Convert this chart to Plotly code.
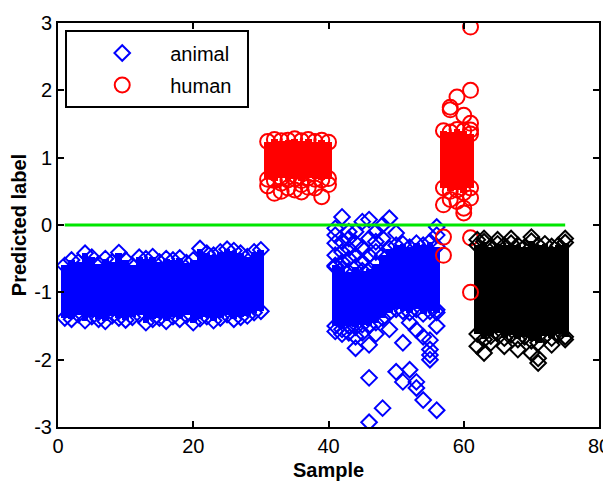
import plotly.graph_objects as go

# ---------------- data ----------------
# animal, group 1 : samples 1..30, dense core range per sample
animal1_x = list(range(1, 31))
animal1_hi = [-0.60, -0.52, -0.55, -0.42, -0.48, -0.58, -0.50, -0.55, -0.41, -0.52,
              -0.60, -0.48, -0.50, -0.47, -0.55, -0.50, -0.52, -0.49, -0.56, -0.52,
              -0.35, -0.42, -0.45, -0.40, -0.36, -0.38, -0.42, -0.47, -0.40, -0.37]
animal1_lo = [-1.38, -1.40, -1.33, -1.42, -1.36, -1.40, -1.43, -1.35, -1.38, -1.41,
              -1.37, -1.33, -1.45, -1.40, -1.38, -1.43, -1.36, -1.40, -1.34, -1.45,
              -1.39, -1.36, -1.42, -1.38, -1.33, -1.40, -1.37, -1.35, -1.30, -1.28]

# human, group 1 : samples 31..40
human1_x = list(range(31, 41))
human1_hi = [1.24, 1.27, 1.25, 1.26, 1.28, 1.25, 1.27, 1.24, 1.26, 1.23]
human1_lo = [0.68, 0.66, 0.70, 0.67, 0.69, 0.66, 0.70, 0.68, 0.67, 0.69]
human1_extra_x = [31, 32, 33, 34, 35, 36, 37, 38, 39, 40, 33, 36]
human1_extra_y = [0.58, 0.47, 0.50, 0.55, 0.52, 0.49, 0.56, 0.55, 0.42, 0.60, 0.62, 0.60]

# animal, group 2 : samples 41..56
animal2_x = list(range(41, 57))
animal2_hi = [-0.60, -0.65, -0.70, -0.62, -0.68, -0.66, -0.58, -0.45,
              -0.35, -0.30, -0.28, -0.33, -0.27, -0.30, -0.25, -0.32]
animal2_lo = [-1.50, -1.55, -1.50, -1.52, -1.48, -1.50, -1.45, -1.38,
              -1.30, -1.25, -1.28, -1.30, -1.25, -1.32, -1.28, -1.30]
animal2_extra_x = [41, 41, 41, 42, 42, 43, 43, 44, 44, 45, 46, 46, 47, 47, 49, 50, 56, 56,
                   41, 42, 43, 44, 45, 45, 46, 47, 42, 48, 48, 41, 43,
                   42, 44, 44, 46, 46, 48, 46, 51, 50, 51, 52, 53, 53, 54, 56, 53, 54,
                   55, 55, 55, 56, 56, 52, 49, 47, 45, 41, 43, 55]
animal2_extra_y = [-0.05, -0.27, -0.15, 0.12, -0.40, -0.10, -0.35, -0.27, -0.45, 0.05,
                   0.08, -0.20, -0.10, -0.40, 0.10, -0.12, -0.03, -0.15,
                   -0.45, -0.25, -0.50, -0.10, -0.35, -0.55, -0.45, -0.25, -0.55, -0.20,
                   0.00, -0.62, -0.20,
                   -1.62, -1.66, -1.83, -1.78, -2.27, -2.72, -2.93, -1.75, -2.18, -2.33,
                   -2.15, -2.33, -2.42, -2.60, -2.75, -1.56, -1.66, -1.93, -1.85, -1.71,
                   -1.26, -1.50, -1.45, -1.55, -1.62, -1.60, -1.58, -1.60, -2.00]

# human, group 2 : samples 57..61
human2_x = list(range(57, 62))
human2_hi = [1.40, 1.38, 1.42, 1.40, 1.35]
human2_lo = [0.55, 0.50, 0.52, 0.48, 0.55]
human2_extra_x = [61, 61, 59, 58, 58, 60, 61, 61, 57, 60, 60, 59, 57, 57, 61, 61, 58, 61]
human2_extra_y = [2.94, 2.00, 1.90, 1.71, 1.75, 1.63, 1.51, 1.41, 0.30, 0.18, 0.25,
                  0.35, -0.18, -0.45, -0.19, -1.00, 0.38, 0.40]

# third class (black) : samples 62..75
other_x = list(range(62, 76))
other_hi = [-0.30, -0.25, -0.32, -0.28, -0.30, -0.27, -0.30, -0.33, -0.24, -0.30,
            -0.28, -0.32, -0.30, -0.26]
other_lo = [-1.62, -1.70, -1.65, -1.60, -1.68, -1.63, -1.70, -1.66, -1.72, -1.75,
            -1.65, -1.68, -1.62, -1.66]
other_extra_x = [63, 62, 71, 71, 70, 75, 66, 68, 73, 64, 62, 63, 67, 70, 75, 65]
other_extra_y = [-1.90, -1.80, -2.05, -1.98, -1.90, -1.70, -1.80, -1.85, -1.78, -1.75,
                 -0.22, -0.20, -0.20, -0.18, -0.20, -0.22]

# decision threshold line
threshold_x = [1, 75]
threshold_y = [0, 0]

x_ticks = [0, 20, 40, 60, 80]
x_tick_text = ["0", "20", "40", "60", "80"]
y_ticks = [-3, -2, -1, 0, 1, 2, 3]
y_tick_text = ["-3", "-2", "-1", "0", "1", "2", "3"]

BLUE = "rgb(0,0,255)"
RED = "rgb(255,0,0)"
BLACK = "rgb(0,0,0)"
GREEN = "rgb(0,230,0)"
FONT = "Arial, Liberation Sans, sans-serif"

fig = go.Figure()


def add_group(xs, hi, lo, ex_x, ex_y, color, symbol, size, name, show, group):
    fig.add_trace(go.Bar(
        x=xs, y=[h - l for h, l in zip(hi, lo)], base=lo, width=1,
        marker=dict(color=color, line=dict(width=0)),
        showlegend=False, hoverinfo="skip"))
    fig.add_trace(go.Scatter(
        x=xs + xs + ex_x, y=hi + lo + ex_y, mode="markers", name=name,
        legendgroup=group, showlegend=show,
        marker=dict(symbol=symbol, size=size, color=color,
                    line=dict(color=color, width=2))))


add_group(animal1_x, animal1_hi, animal1_lo, [], [], BLUE, "diamond-open", 12,
          "animal", True, "a")
add_group(animal2_x, animal2_hi, animal2_lo, animal2_extra_x, animal2_extra_y, BLUE,
          "diamond-open", 12, "animal", False, "a")
add_group(human1_x, human1_hi, human1_lo, human1_extra_x, human1_extra_y, RED,
          "circle-open", 15, "human", True, "h")
add_group(human2_x, human2_hi, human2_lo, human2_extra_x, human2_extra_y, RED,
          "circle-open", 15, "human", False, "h")
add_group(other_x, other_hi, other_lo, other_extra_x, other_extra_y, BLACK,
          "diamond-open", 12, "other", False, "o")

fig.add_trace(go.Scatter(x=threshold_x, y=threshold_y, mode="lines",
                         line=dict(color=GREEN, width=3), showlegend=False,
                         hoverinfo="skip"))

axis_common = dict(showline=True, linecolor="black", linewidth=2, mirror="ticks",
                   ticks="inside", ticklen=6, tickwidth=1.5, tickcolor="black",
                   showgrid=False, zeroline=False, automargin=False,
                   tickfont=dict(family=FONT, size=20, color="black"))

fig.update_layout(
    width=603, height=473,
    margin=dict(l=50, r=12, t=15, b=54),
    paper_bgcolor="white", plot_bgcolor="white",
    barmode="overlay", bargap=0,
    xaxis=dict(range=[0, 80], tickvals=x_ticks, ticktext=x_tick_text, **axis_common,
               title=dict(text="Sample", standoff=12,
                          font=dict(family=FONT, size=20, color="black", weight="bold"))),
    yaxis=dict(range=[-3, 3], tickvals=y_ticks, ticktext=y_tick_text, **axis_common,
               title=dict(text="Predicted label", standoff=4,
                          font=dict(family=FONT, size=20, color="black", weight="bold"))),
    legend=dict(x=0.03, y=0.974, xanchor="left", yanchor="top",
                bgcolor="rgba(0,0,0,0)", borderwidth=0,
                font=dict(family=FONT, size=20, color="black"),
                traceorder="grouped", tracegroupgap=3, itemwidth=86),
    shapes=[dict(type="rect", xref="paper", yref="paper",
                 x0=0.0148, x1=0.3512, y0=0.792, y1=0.9802,
                 line=dict(color="black", width=2), fillcolor="white", layer="above")],
    showlegend=True,
)

fig.write_html("out.html")
